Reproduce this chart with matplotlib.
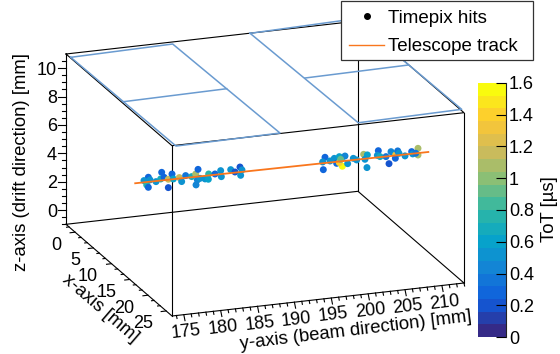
import matplotlib
matplotlib.use("Agg")
import matplotlib.pyplot as plt
from matplotlib.colors import LinearSegmentedColormap, Normalize
from matplotlib.cm import ScalarMappable
from matplotlib.lines import Line2D
from matplotlib.patches import Rectangle

plt.rcParams['font.family'] = ['Liberation Sans', 'DejaVu Sans']

x_lim = (-2.5, 26.6)
y_lim = (173.4, 213.0)
z_lim = (-1.0, 11.0)
x_ticks = [0, 5, 10, 15, 20, 25]
y_ticks = [175, 180, 185, 190, 195, 200, 205, 210]
z_ticks = [0, 2, 4, 6, 8, 10]
tot_ticks = [0, 0.2, 0.4, 0.6, 0.8, 1, 1.2, 1.4, 1.6]

# hits, all at about the same x, tot in us
hit_x = 16.5
hit_y = [175.18, 174.59, 174.96, 175.18, 175.41, 176.22, 176.99, 176.85, 177.31, 177.89, 177.89,
         178.39, 178.57, 179.38, 179.70, 180.24, 181.06, 181.60, 181.92, 181.83, 181.65, 182.19,
         182.87, 183.36, 183.32, 184.22, 184.99, 185.08, 186.35, 186.93, 187.61, 187.88, 187.70,
         199.14, 198.82, 198.91, 199.82, 200.40, 200.72, 201.08, 201.40, 201.85, 201.49, 201.08,
         201.26, 202.21, 202.98, 203.43, 204.38, 204.88, 204.56, 204.83, 206.37, 206.24, 206.60,
         207.41, 207.82, 208.09, 208.63, 208.72, 208.68, 209.00, 209.17, 209.99, 210.89, 211.03,
         211.75, 211.75, 211.44]
hit_z = [6.43, 6.23, 5.90, 5.72, 6.23, 6.06, 6.67, 6.21, 6.30, 6.13, 5.54,
         6.47, 6.11, 6.16, 5.86, 6.25, 6.13, 6.28, 6.59, 5.85, 5.51, 5.94,
         5.86, 6.18, 5.81, 6.13, 6.32, 5.89, 6.31, 6.11, 6.42, 6.20, 5.83,
         6.43, 6.12, 5.57, 6.13, 6.28, 5.91, 6.36, 6.25, 6.36, 5.66, 5.94,
         6.16, 5.80, 6.13, 5.99, 6.33, 6.26, 5.97, 5.37, 6.47, 6.15, 6.04,
         5.99, 5.47, 6.30, 6.11, 6.03, 5.80, 6.30, 6.12, 5.89, 6.14, 5.97,
         6.32, 5.85, 5.99]
hit_tot = [0.3, 0.55, 0.75, 0.25, 0.5, 0.55, 0.25, 0.7, 0.3, 1.15, 0.2,
           0.25, 0.6, 1.2, 0.55, 0.35, 0.7, 1.05, 0.25, 0.4, 0.45, 0.5,
           0.5, 0.75, 0.6, 0.3, 0.55, 0.5, 0.5, 0.2, 0.22, 0.5, 0.55,
           0.25, 0.55, 0.25, 0.55, 0.5, 0.3, 0.6, 0.7, 0.4, 1.6, 1.4,
           0.9, 0.55, 0.55, 0.5, 1.05, 0.6, 0.55, 0.55, 0.3, 0.55, 0.65,
           0.35, 0.2, 0.4, 0.55, 1.35, 0.25, 0.35, 0.55, 0.5, 0.3, 0.5,
           1.1, 1.1, 0.35]

track_x = [16.5, 16.5]
track_y = [173.4, 213.15]
track_z = [6.11, 5.98]

# readout chip outlines on top of the box
quad_left_x = [-1.42, -1.92, 26.47, 26.83, -1.42]
quad_left_y = [173.51, 187.58, 188.11, 173.83, 173.51]
mid_left_x = [12.71, 12.34]
mid_left_y = [173.66, 187.86]
quad_right_x = [-2.47, -3.2, 25.58, 26.07, -2.47]
quad_right_y = [198.35, 212.8, 213.19, 198.92, 198.35]
mid_right_x = [11.82, 11.45]
mid_right_y = [198.73, 212.93]
quad_z = 11.0

bird = ['#352a87', '#0f5cdd', '#1481d6', '#06a4ca', '#2eb7a4',
        '#87bf77', '#d1bb59', '#fec832', '#f9fb0e']


def project(x, y, z):
    # oblique view of the box, result in figure pixels
    fx = (x - x_lim[0]) / (x_lim[1] - x_lim[0])
    fy = (y - y_lim[0]) / (y_lim[1] - y_lim[0])
    fz = (z - z_lim[0]) / (z_lim[1] - z_lim[0])
    return 66 + 106 * fx + 292 * fy, 224.3 + 91.7 * fx - 33 * fy - 170.3 * fz


def line3d(xs, ys, zs, **kw):
    pts = [project(a, b, c) for a, b, c in zip(xs, ys, zs)]
    ax.plot([p[0] for p in pts], [p[1] for p in pts], **kw)


fig = plt.figure(figsize=(5.6, 3.54), dpi=100)
ax = fig.add_axes([0, 0, 1, 1])
ax.set_xlim(0, 560)
ax.set_ylim(354, 0)
ax.axis('off')

# box
box = dict(color='black', lw=0.8, zorder=2, solid_capstyle='projecting')
x0, x1 = x_lim
y0, y1 = y_lim
z0, z1 = z_lim
for z in (z0, z1):
    line3d([x0, x1, x1, x0, x0], [y0, y0, y1, y1, y0], [z, z, z, z, z], **box)
for x, y in [(x0, y0), (x1, y0), (x1, y1), (x0, y1)]:
    line3d([x, x], [y, y], [z0, z1], **box)

# chips
chip = dict(color='#6a9bd0', lw=1.1, zorder=3)
n = len(quad_left_x)
line3d(quad_left_x, quad_left_y, [quad_z] * n, **chip)
line3d(quad_right_x, quad_right_y, [quad_z] * n, **chip)
line3d(mid_left_x, mid_left_y, [quad_z] * 2, **chip)
line3d(mid_right_x, mid_right_y, [quad_z] * 2, **chip)

# z ticks
for i in range(-2, 22):
    z = i * 0.5
    tl = 8 if i % 4 == 0 else 4
    _, py = project(x0, y0, z)
    ax.plot([66 - tl, 66], [py, py], color='black', lw=0.8, zorder=2)
for z in z_ticks:
    _, py = project(x0, y0, z)
    ax.text(57, py, str(z), ha='right', va='center_baseline', fontsize=13)

# x ticks, two minor ones between majors
for i in range(-1, 16):
    x = i * 5 / 3
    tl = 5 if i % 3 == 0 else 2.5
    px, py = project(x, y0, z0)
    ax.plot([px - tl, px], [py + tl * 0.12, py], color='black', lw=0.8, zorder=2)
for x in x_ticks:
    px, py = project(x, y0, z0)
    ax.text(px - 13.5, py + 11, str(x), ha='right', va='center_baseline', fontsize=13)

# y ticks
for y in range(174, 214):
    tl = 6 if y % 5 == 0 else 3
    px, py = project(x1, y, z0)
    ax.plot([px + tl * 0.2, px], [py + tl, py], color='black', lw=0.8, zorder=2)
for y in y_ticks:
    px, py = project(x1, y, z0)
    ax.text(px + 2, py + 15.2, str(y), ha='center', va='center_baseline', fontsize=13,
            rotation=6.5, rotation_mode='anchor')

# titles
ax.text(22, 162, 'z-axis (drift direction) [mm]', rotation=90, ha='center', va='center', fontsize=13.3)
ax.text(100, 308.7, 'x-axis [mm]', rotation=-40.8, ha='center', va='center', fontsize=13.3,
        rotation_mode='anchor')
ax.text(356, 331, 'y-axis (beam direction) [mm]', rotation=6.9, ha='center', va='center',
        fontsize=13.3, rotation_mode='anchor')
ax.text(549, 209, 'ToT [µs]', rotation=90, ha='center', va='center', fontsize=13.3)

# hits and track
cmap = LinearSegmentedColormap.from_list('bird', bird, N=20)
norm = Normalize(0, 1.6)
pts = [project(hit_x, a, b) for a, b in zip(hit_y, hit_z)]
ax.scatter([p[0] for p in pts], [p[1] for p in pts], c=hit_tot, cmap=cmap, norm=norm,
           s=25, linewidths=0, zorder=4)
line3d(track_x, track_y, track_z, color='#f9761d', lw=1.3, zorder=5)

# legend, frame drawn separately to get the height right
ax.add_patch(Rectangle((341, 1), 192, 59, facecolor='white', edgecolor='#333333', lw=0.9, zorder=9))
handles = [Line2D([], [], ls='none', marker='o', ms=4, color='black', label='Timepix hits'),
           Line2D([], [], color='#f9761d', lw=1.0, label='Telescope track')]
leg = ax.legend(handles=handles, loc='upper left', bbox_to_anchor=(341 / 560, 1 - 1 / 354, 192 / 560, 0),
                bbox_transform=fig.transFigure, mode='expand', fontsize=13.5, frameon=False,
                borderaxespad=0, handlelength=1.85, handletextpad=0.19, labelspacing=0.62, borderpad=0.45)
leg.set_zorder(10)

# colorbar
cax = fig.add_axes([478 / 560, 1 - 337 / 354, 28 / 560, 254 / 354])
cb = fig.colorbar(ScalarMappable(norm=norm, cmap=cmap), cax=cax, ticks=tot_ticks)
cb.outline.set_visible(False)
cax.spines['right'].set_visible(True)
cax.spines['right'].set_linewidth(0.8)
cax.spines['right'].set_color('#222222')
cax.set_yticklabels(['%g' % t for t in tot_ticks])
cax.tick_params(axis='y', direction='in', length=7.5, width=0.8, labelsize=13, pad=2, color='black')
cax.minorticks_off()

fig.savefig('out.png', dpi=100)
